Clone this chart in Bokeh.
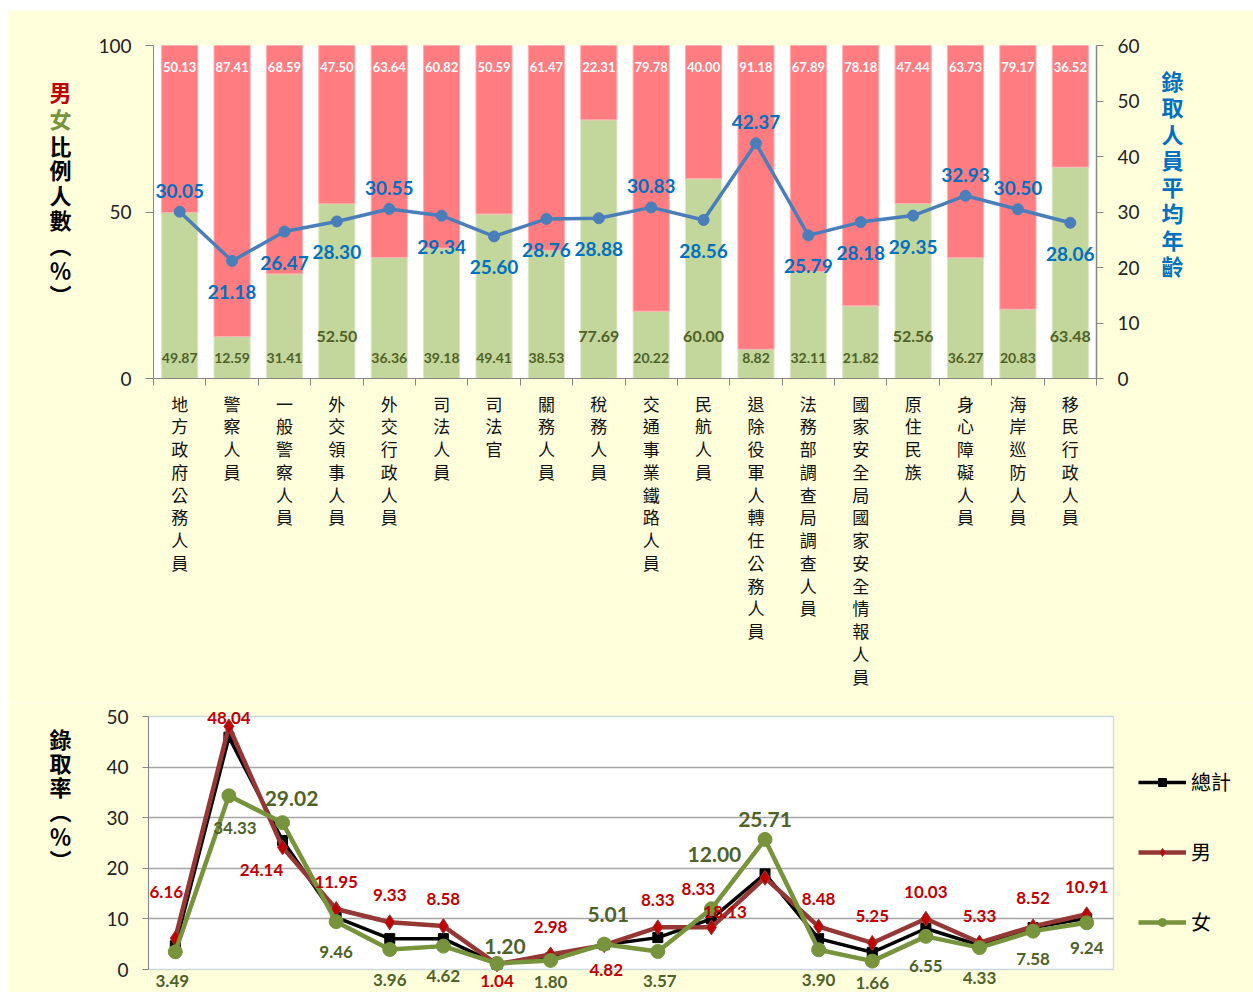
from bokeh.plotting import figure
from bokeh.models import (Range1d, LinearAxis, ColumnDataSource, LabelSet, Label, BoxAnnotation,
                          FixedTicker, CustomJSTickFormatter, Legend, LegendItem)
from bokeh.core.properties import value
from bokeh.layouts import column
from bokeh.embed import file_html
from bokeh.resources import INLINE

# ---------------- data ----------------
categories = ["地方政府公務人員", "警察人員", "一般警察人員", "外交領事人員", "外交行政人員",
              "司法人員", "司法官", "關務人員", "稅務人員", "交通事業鐵路人員", "民航人員",
              "退除役軍人轉任公務人員", "法務部調查局調查人員", "國家安全局國家安全情報人員",
              "原住民族", "身心障礙人員", "海岸巡防人員", "移民行政人員"]
male_pct = [50.13, 87.41, 68.59, 47.50, 63.64, 60.82, 50.59, 61.47, 22.31, 79.78,
            40.00, 91.18, 67.89, 78.18, 47.44, 63.73, 79.17, 36.52]
female_pct = [49.87, 12.59, 31.41, 52.50, 36.36, 39.18, 49.41, 38.53, 77.69, 20.22,
              60.00, 8.82, 32.11, 21.82, 52.56, 36.27, 20.83, 63.48]
avg_age = [30.05, 21.18, 26.47, 28.30, 30.55, 29.34, 25.60, 28.76, 28.88, 30.83,
           28.56, 42.37, 25.79, 28.18, 29.35, 32.93, 30.50, 28.06]

rate_total = [4.7, 45.9, 25.5, 10.3, 6.1, 6.1, 1.1, 2.3, 4.9, 6.3,
              10.0, 18.9, 6.1, 3.4, 8.1, 4.8, 8.3, 10.1]
rate_male = [6.16, 48.04, 24.14, 11.95, 9.33, 8.58, 1.04, 2.98, 4.82, 8.33,
             8.33, 18.13, 8.48, 5.25, 10.03, 5.33, 8.52, 10.91]
rate_female = [3.49, 34.33, 29.02, 9.46, 3.96, 4.62, 1.20, 1.80, 5.01, 3.57,
               12.00, 25.71, 3.90, 1.66, 6.55, 4.33, 7.58, 9.24]

# ---------------- styles ----------------
BG = "#FFFFDC"
MALE_BAR = "#FF7C80"
FEMALE_BAR = "#C3D69B"
AGE_BLUE = "#4A7EBB"
LABEL_BLUE = "#0070C0"
OLIVE = "#4F6228"
RED = "#C00000"
AX = "#868686"
CJK = "Noto Sans CJK TC"
NUM = "Lato"

# age label placement: True = above the point
age_above = [True, False, False, False, True, False, False, False, False, True,
             False, True, False, False, False, True, True, False]
# bottom chart label offsets (screen px, dx right, dy down)
male_dx = [-9, 0, -21, 0, 0, 0, 0, 0, 2, 0, -13, -40, 0, 0, 0, 0, 0, 0]
male_dy = [-46, -8, 23, -27, -27, -27, 17, -27, 25, -27, -38, 34, -28, -27, -27, -27, -28, -27]
fem_dx = [-3, 6, 9, 0, 0, 0, 8, 0, 4, 2, 3, 0, 0, 0, 0, 0, 0, 0]
fem_dy = [29, 32, -24, 30, 31, 30, -17, 22, -30, 30, -54, -20, 30, 22, 30, 30, 28, 25]
fem_big = [False, False, True, False, False, False, True, False, True, False,
           True, True, False, False, False, False, False, False]

n = len(categories)
xs = [i + 0.5 for i in range(n)]

# ---------- layout geometry (page pixels) ----------
PX0, PY0 = 8, 10               # white strip left / top of the panels
W = 1245
H1, H2 = 692, 290
TOP0 = PY0
BOT0 = TOP0 + H1
# top plot area
T_L, T_R, T_T, T_B = 153.0, 1096.0, 45.0, 378.0
# bottom plot area
B_L, B_R, B_T, B_B = 148.0, 1113.0, 716.0, 969.0

tux = (T_R - T_L) / n
tuy = (T_B - T_T) / 100.0
bux = (B_R - B_L) / n
buy = (B_B - B_T) / 50.0

t_x0 = -(T_L - PX0) / tux
t_x1 = n + (PX0 + W - T_R) / tux
t_y0 = -(TOP0 + H1 - T_B) / tuy
t_y1 = 100 + (T_T - TOP0) / tuy
age_scale = 60.0 / 100.0

b_x0 = -(B_L - PX0) / bux
b_x1 = n + (PX0 + W - B_R) / bux
b_y0 = -(BOT0 + H2 - B_B) / buy
b_y1 = 50 + (B_T - BOT0) / buy

def top_xy(px, py):
    return (px - T_L) / tux, (T_B - py) / tuy

def bot_xy(px, py):
    return (px - B_L) / bux, (B_B - py) / buy

# ================= TOP FIGURE =================
p1 = figure(width=W, height=H1, x_range=Range1d(t_x0, t_x1), y_range=Range1d(t_y0, t_y1),
            output_backend="svg", toolbar_location=None,
            min_border_left=0, min_border_right=0, min_border_top=0, min_border_bottom=0,
            background_fill_color=BG, border_fill_color=BG, outline_line_color=None)
p1.extra_y_ranges = {"age": Range1d(t_y0 * age_scale, t_y1 * age_scale)}
p1.xgrid.visible = False
p1.ygrid.visible = False

p1.add_layout(BoxAnnotation(left=0, right=n, bottom=0, top=100, fill_color="white",
                            fill_alpha=1, line_color=None, level="image"))

src1 = ColumnDataSource(dict(
    x=xs, male=male_pct, female=female_pct, age=avg_age,
    male_txt=[f"{v:.2f}" for v in male_pct],
    female_txt=[f"{v:.2f}" for v in female_pct],
    female_off=[42 if v > 50 else 21 for v in female_pct],
    female_fs=["16px" if v > 50 else "14px" for v in female_pct],
    age_txt=[f"{v:.2f}" for v in avg_age],
    age_off=[21 if a else -31 for a in age_above],
))

p1.vbar(x="x", width=0.69, bottom=0, top="female", source=src1,
        fill_color=FEMALE_BAR, line_color="#DDE8C4", line_width=1)
p1.vbar(x="x", width=0.69, bottom="female", top=100, source=src1,
        fill_color=MALE_BAR, line_color="#FFB0B2", line_width=1)

p1.line(x="x", y="age", source=src1, y_range_name="age", line_color=AGE_BLUE, line_width=3.5)
p1.scatter(x="x", y="age", source=src1, y_range_name="age", size=11, marker="circle",
           fill_color=AGE_BLUE, line_color=AGE_BLUE)

p1.add_layout(LabelSet(x="x", y=100, text="male_txt", source=src1, y_offset=-21,
                       text_align="center", text_baseline="middle", text_color="white",
                       text_font=value(NUM), text_font_style="bold", text_font_size="13px"))
p1.add_layout(LabelSet(x="x", y=0, text="female_txt", source=src1, y_offset="female_off",
                       text_align="center", text_baseline="middle", text_color=OLIVE,
                       text_font=value(NUM), text_font_style="bold", text_font_size="female_fs"))
p1.add_layout(LabelSet(x="x", y="age", text="age_txt", source=src1, y_range_name="age",
                       y_offset="age_off", text_align="center", text_baseline="middle",
                       text_color=LABEL_BLUE, text_font=value(NUM), text_font_style="bold",
                       text_font_size="19px"))

# axes (fixed inside the frame)
ya = p1.yaxis[0]
ya.fixed_location = 0
ya.bounds = (0, 100)
ya.ticker = FixedTicker(ticks=[0, 50, 100])
ya.axis_line_color = AX
ya.major_tick_line_color = AX
ya.major_tick_out = 8
ya.major_tick_in = 0
ya.minor_tick_line_color = None
ya.major_label_text_font = NUM
ya.major_label_text_font_size = "19px"
ya.major_label_text_color = "#222222"
ya.major_label_standoff = 14

ax_r = LinearAxis(y_range_name="age", ticker=FixedTicker(ticks=[0, 10, 20, 30, 40, 50, 60]),
                  fixed_location=n, bounds=(0, 60))
ax_r.axis_line_color = AX
ax_r.axis_line_width = 1.5
ax_r.major_tick_line_color = AX
ax_r.major_tick_out = 7
ax_r.major_tick_in = 0
ax_r.minor_tick_line_color = None
ax_r.major_label_text_font = NUM
ax_r.major_label_text_font_size = "19px"
ax_r.major_label_text_color = "#222222"
ax_r.major_label_standoff = 14
p1.add_layout(ax_r, "right")

xa = p1.xaxis[0]
xa.fixed_location = 0
xa.bounds = (0, n)
xa.ticker = FixedTicker(ticks=xs, minor_ticks=list(range(n + 1)))
xa.formatter = CustomJSTickFormatter(
    args=dict(names=["\n".join(list(c)) for c in categories]),
    code="const i = Math.floor(tick); return (i >= 0 && i < names.length) ? names[i] : '';")
xa.axis_line_color = AX
xa.major_tick_line_color = None
xa.minor_tick_line_color = AX
xa.minor_tick_out = 7
xa.minor_tick_in = 0
xa.major_label_text_font = CJK
xa.major_label_text_font_size = "17px"
xa.major_label_text_line_height = 0.91
xa.major_label_text_color = "#111111"
xa.major_label_standoff = 5

# axis titles
lx, ly = top_xy(60, 74)
p1.add_layout(Label(x=lx, y=ly, text="男", text_align="center", text_baseline="top",
                    text_color=RED, text_font=CJK, text_font_style="bold", text_font_size="22px"))
lx, ly = top_xy(60, 101)
p1.add_layout(Label(x=lx, y=ly, text="女", text_align="center", text_baseline="top",
                    text_color="#77933C", text_font=CJK, text_font_style="bold", text_font_size="22px"))
lx, ly = top_xy(60, 128)
p1.add_layout(Label(x=lx, y=ly, text="\n".join(list("比例人數︵％︶")), text_align="center",
                    text_baseline="top", text_color="black", text_font=CJK, text_font_style="bold",
                    text_font_size="22px", text_line_height=0.78))
lx, ly = top_xy(1172, 63)
p1.add_layout(Label(x=lx, y=ly, text="\n".join(list("錄取人員平均年齡")), text_align="center",
                    text_baseline="top", text_color=LABEL_BLUE, text_font=CJK, text_font_style="bold",
                    text_font_size="22px", text_line_height=0.83))

# ================= BOTTOM FIGURE =================
p2 = figure(width=W, height=H2, x_range=Range1d(b_x0, b_x1), y_range=Range1d(b_y0, b_y1),
            output_backend="svg", toolbar_location=None,
            min_border_left=0, min_border_right=0, min_border_top=0, min_border_bottom=0,
            background_fill_color=BG, border_fill_color=BG, outline_line_color=None)
p2.xaxis.visible = False
p2.xgrid.visible = False

p2.add_layout(BoxAnnotation(left=0, right=n, bottom=0, top=50, fill_color="white",
                            fill_alpha=1, line_color=None, level="image"))

grid_ticks = [10, 20, 30, 40]
g = p2.ygrid[0]
if "cross_bounds" in g.properties():
    g.ticker = FixedTicker(ticks=grid_ticks)
    g.cross_bounds = (0, n)
    g.grid_line_color = "#A6A6A6"
    g.grid_line_width = 1.5
else:
    g.visible = False
    p2.segment(x0=[0] * len(grid_ticks), x1=[n] * len(grid_ticks), y0=grid_ticks, y1=grid_ticks,
               line_color="#A6A6A6", line_width=1.5)

# plot-area border
p2.add_layout(BoxAnnotation(left=0, right=n, bottom=0, top=50, fill_alpha=0,
                            line_color="#4F81BD", line_width=1.3, level="underlay"))

ya2 = p2.yaxis[0]
ya2.fixed_location = 0
ya2.bounds = (0, 50)
ya2.ticker = FixedTicker(ticks=[0, 10, 20, 30, 40, 50])
ya2.axis_line_color = AX
ya2.major_tick_line_color = AX
ya2.major_tick_out = 6
ya2.major_tick_in = 0
ya2.minor_tick_line_color = None
ya2.major_label_text_font = NUM
ya2.major_label_text_font_size = "19px"
ya2.major_label_text_color = "#222222"
ya2.major_label_standoff = 14

src2 = ColumnDataSource(dict(
    x=xs, total=rate_total, male=rate_male, female=rate_female,
    male_txt=[f"{v:.2f}" for v in rate_male],
    female_txt=[f"{v:.2f}" for v in rate_female],
    mdx=male_dx, mdy=[-d for d in male_dy],
    fdx=fem_dx, fdy=[-d for d in fem_dy],
    ffs=["21px" if b else "17px" for b in fem_big],
))

lt = p2.line(x="x", y="total", source=src2, line_color="black", line_width=3.5)
st = p2.scatter(x="x", y="total", source=src2, marker="square", size=10,
                fill_color="black", line_color="black")
lm = p2.line(x="x", y="male", source=src2, line_color="#953735", line_width=4.5)
sm = p2.scatter(x="x", y="male", source=src2, marker="diamond", size=15,
                fill_color=RED, line_color="#953735")
lf = p2.line(x="x", y="female", source=src2, line_color="#77933C", line_width=4.5)
sf = p2.scatter(x="x", y="female", source=src2, marker="circle", size=14,
                fill_color="#77933C", line_color="#77933C")

p2.add_layout(LabelSet(x="x", y="male", text="male_txt", source=src2, x_offset="mdx", y_offset="mdy",
                       text_align="center", text_baseline="middle", text_color=RED,
                       text_font=value(NUM), text_font_style="bold", text_font_size="17px"))
p2.add_layout(LabelSet(x="x", y="female", text="female_txt", source=src2, x_offset="fdx", y_offset="fdy",
                       text_align="center", text_baseline="middle", text_color=OLIVE,
                       text_font=value(NUM), text_font_style="bold", text_font_size="ffs"))

legend = Legend(items=[LegendItem(label="總計", renderers=[lt, st]),
                       LegendItem(label="男", renderers=[lm, sm]),
                       LegendItem(label="女", renderers=[lf, sf])],
                location=(1130, 56), orientation="vertical",
                background_fill_alpha=0, border_line_color=None,
                padding=0, margin=0, spacing=41,
                glyph_width=48, glyph_height=20, label_height=20,
                label_standoff=5, label_text_font=CJK, label_text_font_size="20px",
                label_text_color="black")
p2.add_layout(legend)

lx, ly = bot_xy(60, 721)
p2.add_layout(Label(x=lx, y=ly, text="\n".join(list("錄取率︵％︶")), text_align="center",
                    text_baseline="top", text_color="black", text_font=CJK, text_font_style="bold",
                    text_font_size="22px", text_line_height=0.76))

layout = column(p1, p2, spacing=0, margin=(PY0, 0, 0, PX0))
open("out.html", "w").write(file_html(layout, INLINE))
